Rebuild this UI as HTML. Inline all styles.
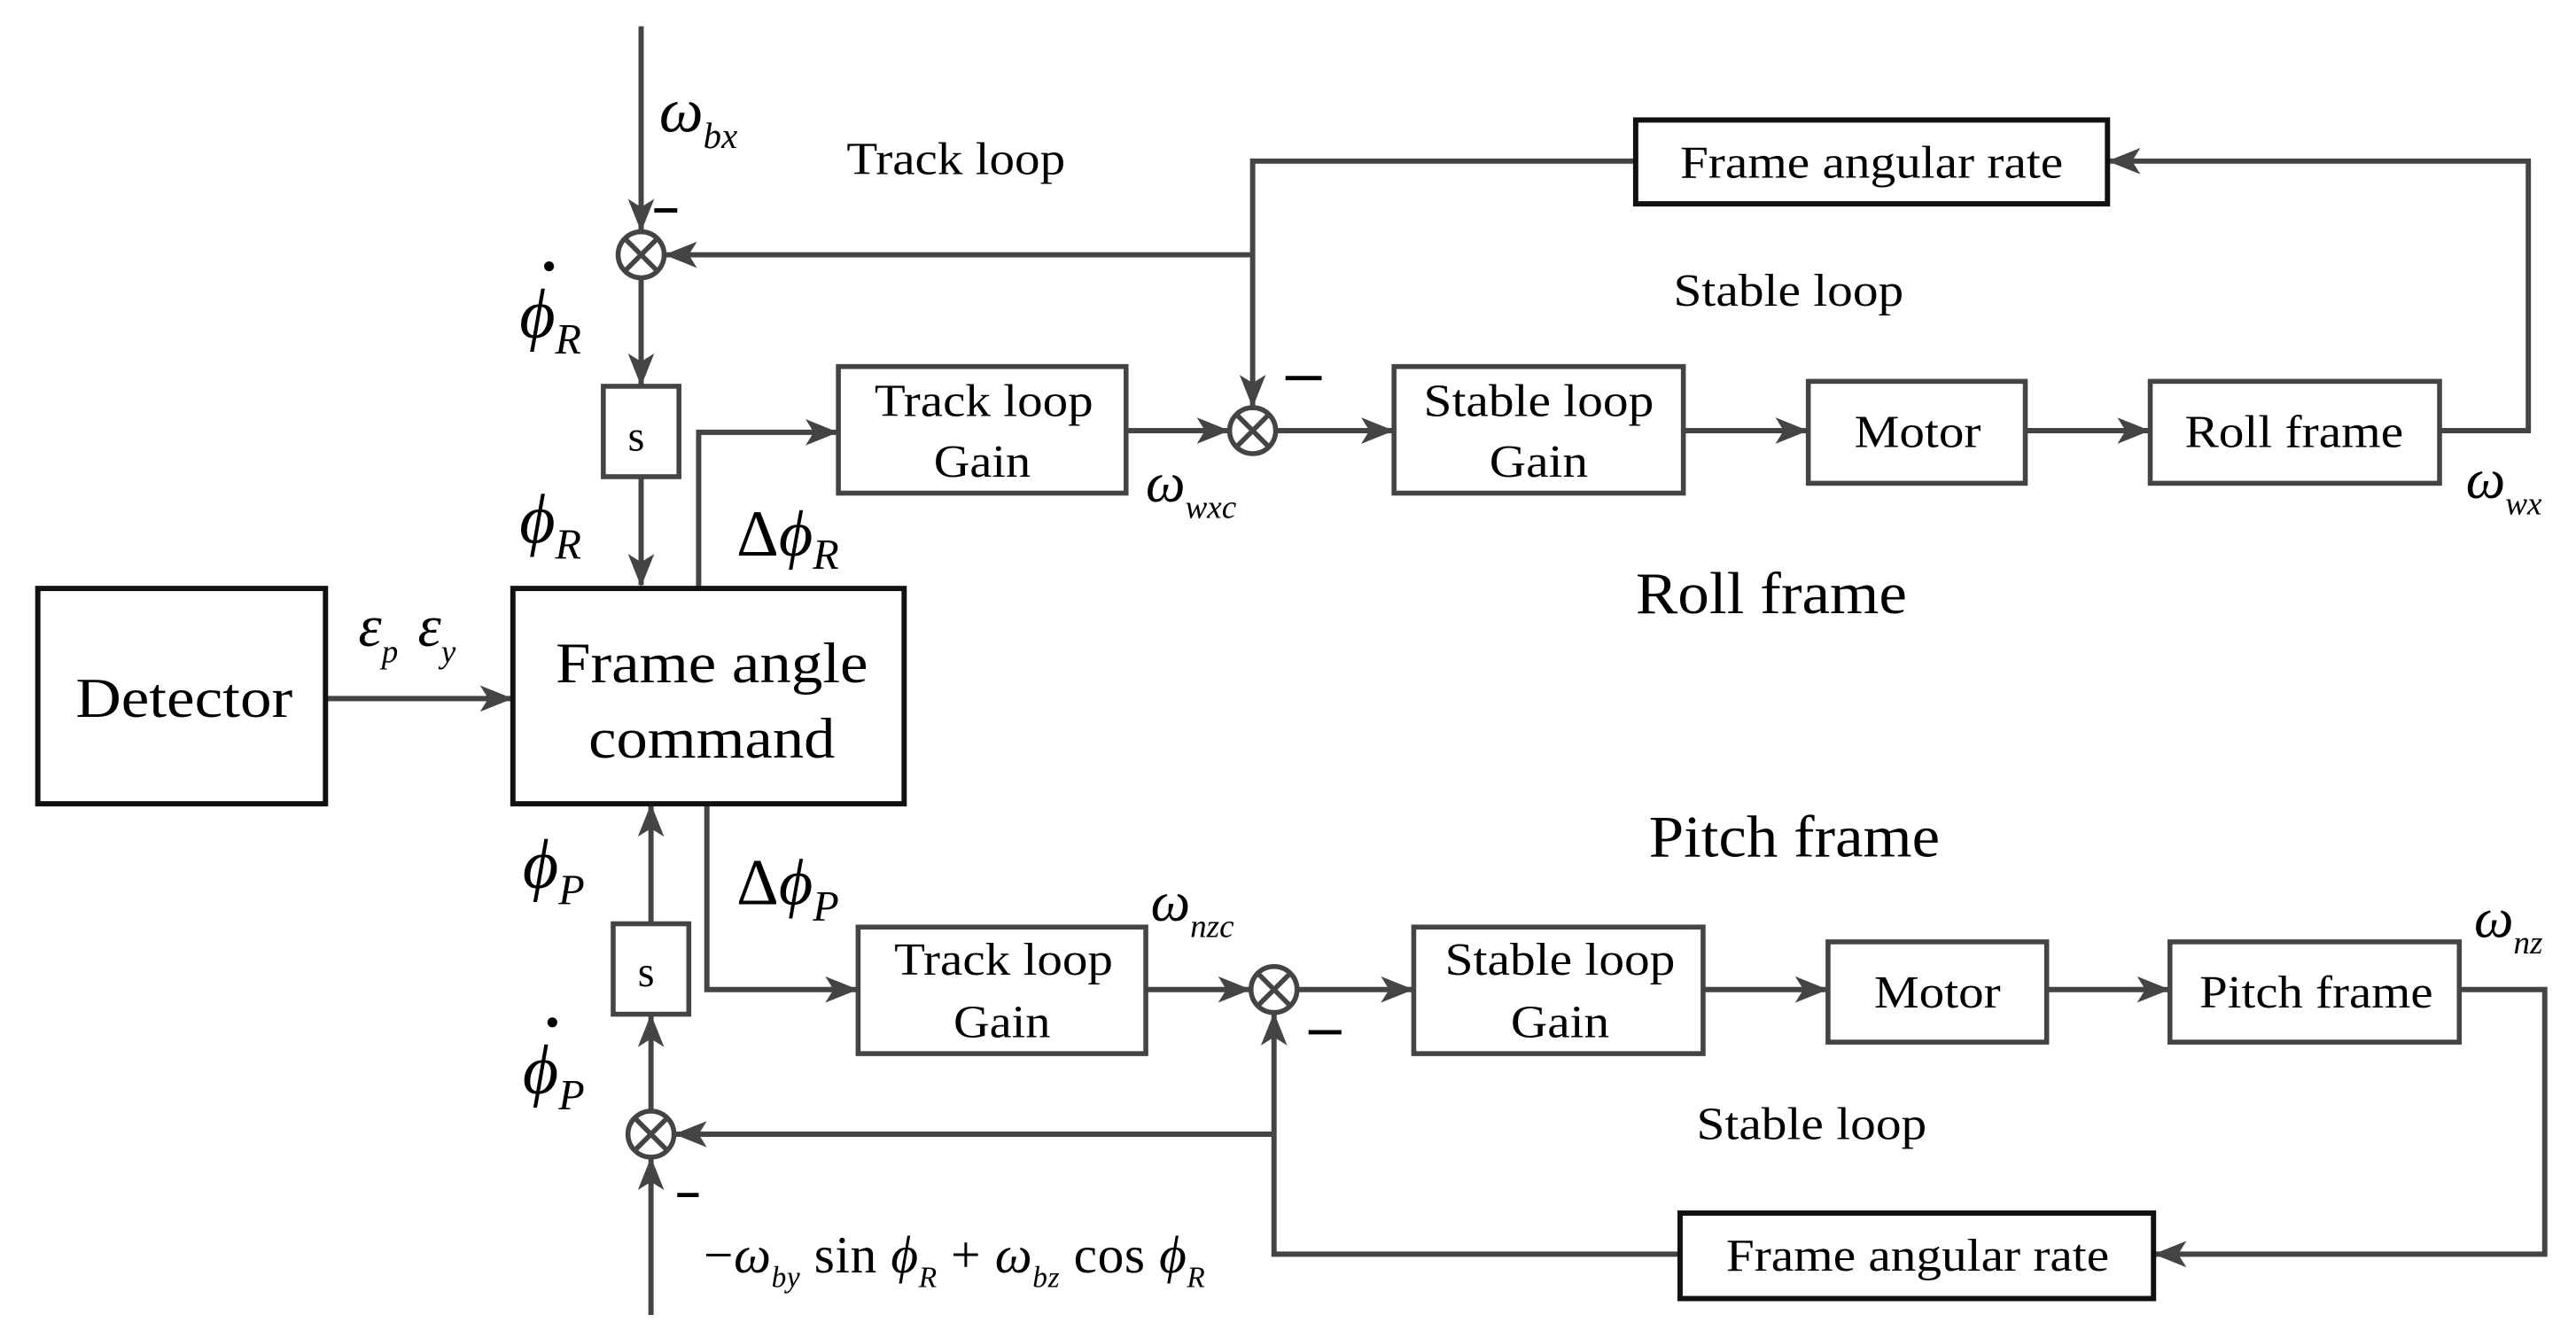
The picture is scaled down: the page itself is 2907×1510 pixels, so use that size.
<!DOCTYPE html>
<html><head><meta charset="utf-8"><style>
html,body{margin:0;padding:0;background:#fff;}
svg{display:block;}
text{font-family:"Liberation Serif",serif;fill:#000;}
.m{font-style:italic;}
</style></head><body>
<svg width="2907" height="1510" viewBox="0 0 1567 814" preserveAspectRatio="none" xmlns="http://www.w3.org/2000/svg">
<defs>
<marker id="a" viewBox="0 0 20 16" refX="19" refY="8" markerWidth="20" markerHeight="16" markerUnits="userSpaceOnUse" orient="auto">
<path d="M0,0 L20,8 L0,16 L5,8 Z" fill="#444"/>
</marker>
</defs>
<g stroke="#444" stroke-width="3.2" fill="none">
<line x1="390" y1="16" x2="390" y2="140" marker-end="url(#a)"/>
<line x1="390" y1="169" x2="390" y2="234" marker-end="url(#a)"/>
<line x1="390" y1="290" x2="390" y2="356" marker-end="url(#a)"/>
<line x1="762" y1="155" x2="405" y2="155" marker-end="url(#a)"/>
<polyline points="995,98 762,98 762,247" marker-end="url(#a)"/>
<polyline points="1484,262 1538,262 1538,98 1283,98" marker-end="url(#a)"/>
<polyline points="425,357 425,263 509,263" marker-end="url(#a)"/>
<line x1="685" y1="262" x2="747" y2="262" marker-end="url(#a)"/>
<line x1="776" y1="262" x2="847" y2="262" marker-end="url(#a)"/>
<line x1="1024" y1="262" x2="1099" y2="262" marker-end="url(#a)"/>
<line x1="1232" y1="262" x2="1307" y2="262" marker-end="url(#a)"/>
<line x1="198" y1="425" x2="311" y2="425" marker-end="url(#a)"/>
<polyline points="430,489 430,602 521,602" marker-end="url(#a)"/>
<line x1="697" y1="602" x2="760" y2="602" marker-end="url(#a)"/>
<line x1="789" y1="602" x2="859" y2="602" marker-end="url(#a)"/>
<line x1="1036" y1="602" x2="1111" y2="602" marker-end="url(#a)"/>
<line x1="1245" y1="602" x2="1319" y2="602" marker-end="url(#a)"/>
<polyline points="1496,602 1548,602 1548,763 1311,763" marker-end="url(#a)"/>
<polyline points="1022,763 775,763 775,617" marker-end="url(#a)"/>
<line x1="775" y1="690" x2="411" y2="690" marker-end="url(#a)"/>
<line x1="396" y1="800" x2="396" y2="705" marker-end="url(#a)"/>
<line x1="396" y1="676" x2="396" y2="618" marker-end="url(#a)"/>
<line x1="396" y1="562" x2="396" y2="490" marker-end="url(#a)"/>
</g>
<g stroke="#444" stroke-width="3" fill="#fff">
<circle cx="390" cy="155" r="14"/>
<circle cx="762" cy="262" r="14"/>
<circle cx="775" cy="602" r="14"/>
<circle cx="396" cy="690" r="14"/>
</g>
<g stroke="#444" stroke-width="3">
<path d="M380,145 L400,165 M400,145 L380,165"/>
<path d="M752,252 L772,272 M772,252 L752,272"/>
<path d="M765,592 L785,612 M785,592 L765,612"/>
<path d="M386,680 L406,700 M406,680 L386,700"/>
</g>
<g fill="#fff">
<rect x="23" y="358" width="175" height="131" stroke="#111" stroke-width="3.2"/>
<rect x="312" y="358" width="238" height="131" stroke="#111" stroke-width="3.2"/>
<rect x="367" y="235" width="46" height="55" stroke="#444" stroke-width="3"/>
<rect x="373" y="562" width="46" height="55" stroke="#444" stroke-width="3"/>
<rect x="510" y="223" width="175" height="77" stroke="#444" stroke-width="3"/>
<rect x="848" y="223" width="176" height="77" stroke="#444" stroke-width="3"/>
<rect x="1100" y="232" width="132" height="62" stroke="#444" stroke-width="3"/>
<rect x="1308" y="232" width="176" height="62" stroke="#444" stroke-width="3"/>
<rect x="995" y="73" width="287" height="51" stroke="#111" stroke-width="3.2"/>
<rect x="522" y="564" width="175" height="77" stroke="#444" stroke-width="3"/>
<rect x="860" y="564" width="176" height="77" stroke="#444" stroke-width="3"/>
<rect x="1112" y="573" width="133" height="61" stroke="#444" stroke-width="3"/>
<rect x="1320" y="573" width="176" height="61" stroke="#444" stroke-width="3"/>
<rect x="1022" y="738" width="288" height="52" stroke="#111" stroke-width="3.2"/>
</g>
<g font-size="28">
<text x="46" y="436" font-size="34" textLength="132" lengthAdjust="spacingAndGlyphs">Detector</text>
<text x="338" y="415" font-size="35" textLength="190" lengthAdjust="spacingAndGlyphs">Frame angle</text>
<text x="358" y="461" font-size="35" textLength="150" lengthAdjust="spacingAndGlyphs">command</text>
<text x="382" y="274" font-size="26">s</text>
<text x="388" y="600" font-size="26">s</text>
<text x="532" y="253" textLength="133" lengthAdjust="spacingAndGlyphs">Track loop</text>
<text x="568" y="290" textLength="59" lengthAdjust="spacingAndGlyphs">Gain</text>
<text x="866" y="253" textLength="140" lengthAdjust="spacingAndGlyphs">Stable loop</text>
<text x="906" y="290" textLength="60" lengthAdjust="spacingAndGlyphs">Gain</text>
<text x="1128" y="272" textLength="77" lengthAdjust="spacingAndGlyphs">Motor</text>
<text x="1329" y="272" textLength="133" lengthAdjust="spacingAndGlyphs">Roll frame</text>
<text x="1022" y="108" textLength="233" lengthAdjust="spacingAndGlyphs">Frame angular rate</text>
<text x="544" y="593" textLength="133" lengthAdjust="spacingAndGlyphs">Track loop</text>
<text x="580" y="631" textLength="59" lengthAdjust="spacingAndGlyphs">Gain</text>
<text x="879" y="593" textLength="140" lengthAdjust="spacingAndGlyphs">Stable loop</text>
<text x="919" y="631" textLength="60" lengthAdjust="spacingAndGlyphs">Gain</text>
<text x="1140" y="613" textLength="77" lengthAdjust="spacingAndGlyphs">Motor</text>
<text x="1338" y="613" textLength="142" lengthAdjust="spacingAndGlyphs">Pitch frame</text>
<text x="1050" y="773" textLength="233" lengthAdjust="spacingAndGlyphs">Frame angular rate</text>
<text x="515" y="106" textLength="133" lengthAdjust="spacingAndGlyphs">Track loop</text>
<text x="1018" y="186" textLength="140" lengthAdjust="spacingAndGlyphs">Stable loop</text>
<text x="1032" y="693" textLength="140" lengthAdjust="spacingAndGlyphs">Stable loop</text>
<text x="995" y="373" font-size="36" textLength="165" lengthAdjust="spacingAndGlyphs">Roll frame</text>
<text x="1003" y="521" font-size="36" textLength="177" lengthAdjust="spacingAndGlyphs">Pitch frame</text>
</g>
<g stroke="#000" stroke-width="2.6">
<line x1="398" y1="128" x2="412" y2="128"/>
<line x1="782" y1="230" x2="804" y2="230"/>
<line x1="796" y1="628" x2="816" y2="628"/>
<line x1="412" y1="727" x2="425" y2="727"/>
</g>
<g class="m" font-size="38">
<text x="401" y="80">ω<tspan font-size="22" dy="10">bx</tspan></text>
<text x="316" y="205" font-size="42">ϕ<tspan font-size="26" dy="10">R</tspan></text>
<circle cx="334" cy="162" r="3" fill="#000"/>
<text x="316" y="330" font-size="42">ϕ<tspan font-size="26" dy="10">R</tspan></text>
<text x="448" y="338" font-size="40"><tspan font-style="normal">Δ</tspan>ϕ<tspan font-size="26" dy="8">R</tspan></text>
<text x="697" y="305" font-size="34">ω<tspan font-size="20" dy="10">wxc</tspan></text>
<text x="1500" y="303" font-size="34">ω<tspan font-size="20" dy="10">wx</tspan></text>
<text x="218" y="393" font-size="36">ε<tspan font-size="20" dy="10">p</tspan><tspan dy="-10" dx="12">ε</tspan><tspan font-size="20" dy="10">y</tspan></text>
<text x="318" y="540" font-size="42">ϕ<tspan font-size="26" dy="10">P</tspan></text>
<text x="448" y="550" font-size="40"><tspan font-style="normal">Δ</tspan>ϕ<tspan font-size="26" dy="10">P</tspan></text>
<text x="318" y="665" font-size="42">ϕ<tspan font-size="26" dy="10">P</tspan></text>
<circle cx="336" cy="622" r="3" fill="#000"/>
<text x="700" y="560" font-size="34">ω<tspan font-size="20" dy="10">nzc</tspan></text>
<text x="1505" y="570" font-size="34">ω<tspan font-size="20" dy="10">nz</tspan></text>
<text x="428" y="774" font-size="32" textLength="305" lengthAdjust="spacing"><tspan font-style="normal">−</tspan>ω<tspan font-size="18" dy="9">by</tspan><tspan font-style="normal" dy="-9"> sin </tspan>ϕ<tspan font-size="18" dy="9">R</tspan><tspan font-style="normal" dy="-9"> + </tspan>ω<tspan font-size="18" dy="9">bz</tspan><tspan font-style="normal" dy="-9"> cos </tspan>ϕ<tspan font-size="18" dy="9">R</tspan></text>
</g>
</svg>
</body></html>
